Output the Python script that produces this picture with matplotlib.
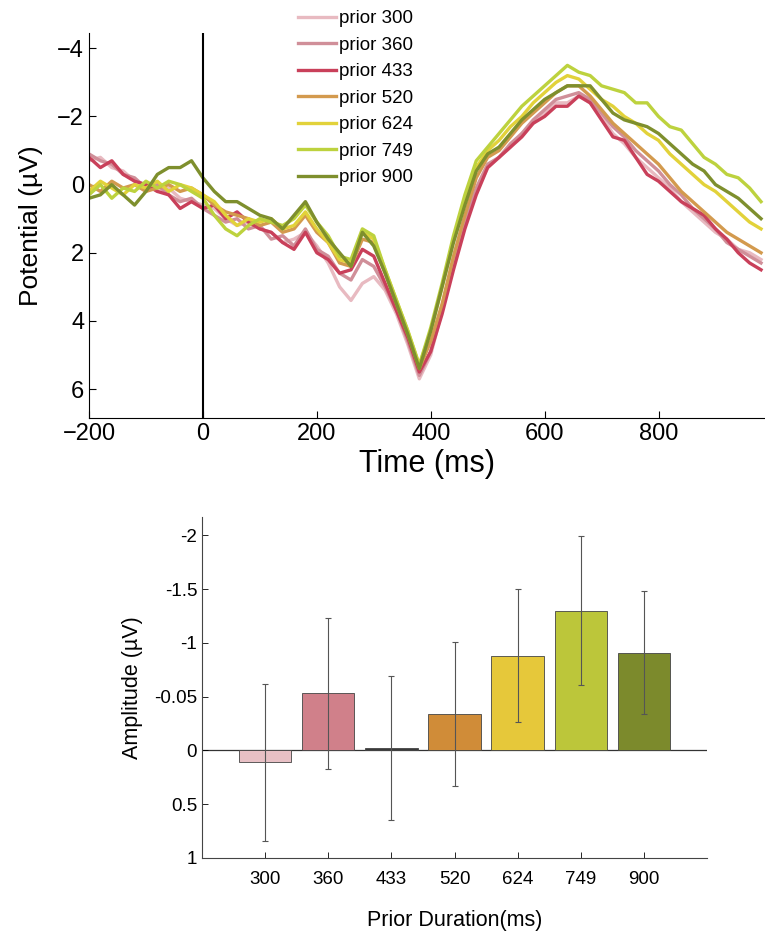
import numpy as np
import matplotlib
matplotlib.use("Agg")
import matplotlib.pyplot as plt

plt.rcParams['font.family'] = ['Liberation Sans', 'DejaVu Sans']

# --- ERP waveforms (uV, negative up), sampled every 20 ms ---
time_ms = np.arange(-200, 1000, 20)

prior_300 = [-0.7, -0.8, -0.5, -0.4, -0.1, 0.0, 0.2, 0.1, 0.4, 0.5,
             0.6, 0.7, 1.0, 1.2, 1.1, 1.3, 1.4, 1.7, 1.6, 1.4,
             1.8, 2.3, 3.0, 3.4, 2.9, 2.7, 3.1, 3.8, 4.7, 5.7,
             5.0, 3.7, 2.4, 1.2, 0.2, -0.5, -0.8, -1.1, -1.5, -1.8,
             -2.1, -2.4, -2.4, -2.6, -2.4, -2.0, -1.5, -1.2, -0.8, -0.5,
             -0.2, 0.1, 0.5, 0.8, 1.1, 1.4, 1.6, 1.9, 2.0, 2.2]
prior_360 = [-0.9, -0.7, -0.6, -0.3, -0.2, 0.1, 0.0, 0.3, 0.5, 0.4,
             0.7, 0.9, 1.1, 1.0, 1.3, 1.2, 1.6, 1.5, 1.8, 1.3,
             1.9, 2.1, 2.6, 2.8, 2.2, 2.4, 3.0, 3.7, 4.6, 5.6,
             4.9, 3.6, 2.3, 1.1, 0.1, -0.6, -0.8, -1.2, -1.5, -1.9,
             -2.2, -2.5, -2.6, -2.7, -2.5, -2.1, -1.7, -1.4, -1.0, -0.7,
             -0.4, 0.0, 0.3, 0.7, 1.0, 1.3, 1.7, 1.9, 2.1, 2.3]
prior_433 = [-0.8, -0.5, -0.7, -0.3, -0.1, 0.0, 0.2, 0.3, 0.7, 0.5,
             0.7, 0.6, 1.0, 0.8, 1.1, 1.3, 1.4, 1.7, 1.9, 1.4,
             2.0, 2.2, 2.6, 2.5, 1.9, 2.1, 2.9, 3.7, 4.5, 5.5,
             4.9, 3.8, 2.5, 1.3, 0.3, -0.5, -0.8, -1.1, -1.4, -1.8,
             -2.0, -2.3, -2.3, -2.6, -2.4, -1.9, -1.4, -1.3, -0.8, -0.3,
             -0.1, 0.2, 0.5, 0.7, 0.9, 1.3, 1.6, 2.0, 2.3, 2.5]
prior_520 = [0.0, 0.2, -0.1, 0.1, 0.0, 0.2, 0.1, 0.0, 0.2, 0.1,
             0.3, 0.6, 0.8, 0.9, 1.0, 1.2, 1.1, 1.4, 1.3, 0.9,
             1.4, 1.7, 2.3, 2.4, 1.6, 1.7, 2.6, 3.5, 4.4, 5.4,
             4.6, 3.5, 2.1, 0.9, -0.2, -0.8, -1.0, -1.4, -1.8, -2.1,
             -2.4, -2.7, -2.9, -2.9, -2.6, -2.2, -1.8, -1.5, -1.2, -0.9,
             -0.6, -0.2, 0.2, 0.5, 0.8, 1.1, 1.4, 1.6, 1.8, 2.0]
prior_624 = [0.2, -0.1, 0.1, 0.3, 0.0, 0.1, -0.1, 0.2, 0.0, 0.1,
             0.3, 0.5, 0.9, 1.2, 1.0, 1.1, 1.0, 1.3, 1.2, 0.8,
             1.3, 1.7, 2.2, 2.3, 1.4, 1.6, 2.5, 3.4, 4.3, 5.3,
             4.3, 3.0, 1.6, 0.5, -0.5, -1.0, -1.3, -1.7, -2.0, -2.4,
             -2.7, -3.0, -3.2, -3.1, -2.8, -2.5, -2.3, -2.0, -1.8, -1.5,
             -1.3, -0.9, -0.6, -0.3, 0.0, 0.2, 0.5, 0.8, 1.1, 1.3]
prior_749 = [0.3, 0.0, 0.4, 0.1, 0.2, -0.1, 0.1, -0.1, 0.0, 0.2,
             0.4, 0.9, 1.3, 1.5, 1.2, 1.0, 1.1, 1.2, 1.0, 0.6,
             1.1, 1.5, 2.1, 2.2, 1.3, 1.5, 2.5, 3.4, 4.3, 5.3,
             4.2, 2.9, 1.5, 0.3, -0.7, -1.1, -1.5, -1.9, -2.3, -2.6,
             -2.9, -3.2, -3.5, -3.3, -3.2, -2.9, -2.8, -2.7, -2.4, -2.4,
             -2.0, -1.7, -1.6, -1.2, -0.8, -0.6, -0.3, -0.2, 0.1, 0.5]
prior_900 = [0.4, 0.3, 0.0, 0.3, 0.6, 0.2, -0.3, -0.5, -0.5, -0.7,
             -0.2, 0.2, 0.5, 0.5, 0.7, 0.9, 1.0, 1.3, 0.9, 0.5,
             1.1, 1.6, 2.0, 2.4, 1.4, 1.8, 2.6, 3.5, 4.4, 5.4,
             4.3, 3.0, 1.7, 0.6, -0.4, -0.9, -1.1, -1.5, -1.9, -2.2,
             -2.5, -2.7, -2.9, -2.9, -2.9, -2.5, -2.1, -1.9, -1.8, -1.7,
             -1.5, -1.2, -0.9, -0.6, -0.4, 0.0, 0.2, 0.4, 0.7, 1.0]

waves = [prior_300, prior_360, prior_433, prior_520, prior_624, prior_749, prior_900]
labels = ['prior 300', 'prior 360', 'prior 433', 'prior 520',
          'prior 624', 'prior 749', 'prior 900']
line_colors = ['#e8bac1', '#d08f99', '#c9405a', '#d39a4e',
               '#e2d23a', '#bdd23e', '#7e8f2d']

# --- bar chart: mean amplitude per prior duration ---
durations = ['300', '360', '433', '520', '624', '749', '900']
amp_mean = [0.11, -0.53, -0.02, -0.34, -0.88, -1.30, -0.91]
amp_err = [0.73, 0.70, 0.67, 0.67, 0.62, 0.69, 0.57]
bar_colors = ['#e8c0c5', '#d0808a', '#3a3a3a', '#d08c38',
              '#e6c83a', '#bcc63a', '#7c8a2c']
ytick_vals = [-2, -1.5, -1, -0.5, 0, 0.5, 1]
ytick_text = ['-2', '-1.5', '-1', '-0.05', '0', '0.5', '1']

fig = plt.figure(figsize=(7.65, 9.31), dpi=100)

# top panel
ax1 = fig.add_axes([89/765, 1-418/931, 1-89/765, (418-33)/931])
for w, lab, c in zip(waves, labels, line_colors):
    ax1.plot(time_ms, w, color=c, lw=2.4, label=lab)
ax1.axvline(0, color='black', lw=1.5)
ax1.set_xlim(-200, 987)
ax1.set_ylim(6.85, -4.45)
ax1.set_xticks([-200, 0, 200, 400, 600, 800])
ax1.set_yticks([-4, -2, 0, 2, 4, 6])
ax1.tick_params(direction='in', labelsize=17, length=5, width=0.8)
ax1.spines['top'].set_visible(False)
ax1.spines['right'].set_visible(False)
ax1.set_xlabel('Time (ms)', fontsize=22, labelpad=3)
ax1.set_ylabel('Potential (\u00b5V)', fontsize=19, labelpad=10)

fig.legend(loc='upper left', bbox_to_anchor=(298/765, 1-10/931),
           frameon=False, fontsize=13.5, handlelength=2.0, handletextpad=0.2,
           labelspacing=0.5, borderpad=0, borderaxespad=0)

# bottom panel
ax2 = fig.add_axes([202/765, 1-858/931, (707-202)/765, (858-517)/931])
x = np.arange(1, len(durations)+1)
ax2.bar(x, amp_mean, width=0.83, color=bar_colors, edgecolor='#444444',
        linewidth=0.6, zorder=2)
ax2.errorbar(x, amp_mean, yerr=amp_err, fmt='none', ecolor='#555555',
             elinewidth=0.8, capsize=2, capthick=0.8, zorder=3)
ax2.axhline(0, color='#333333', lw=0.9, zorder=1)
ax2.set_xlim(0, 8)
ax2.set_ylim(1.0, -2.17)
ax2.set_xticks(x)
ax2.set_xticklabels(durations)
ax2.set_yticks(ytick_vals)
ax2.set_yticklabels(ytick_text)
ax2.tick_params(direction='in', labelsize=13.5, length=4, width=0.6)
ax2.tick_params(axis='x', pad=9)
for s in ['left', 'bottom']:
    ax2.spines[s].set_color('#444444')
ax2.spines['top'].set_visible(False)
ax2.spines['right'].set_visible(False)
ax2.set_xlabel('Prior Duration(ms)', fontsize=15.5, labelpad=16)
ax2.set_ylabel('Amplitude (\u00b5V)', fontsize=15.5, labelpad=8)

fig.savefig('out.png', dpi=100)
